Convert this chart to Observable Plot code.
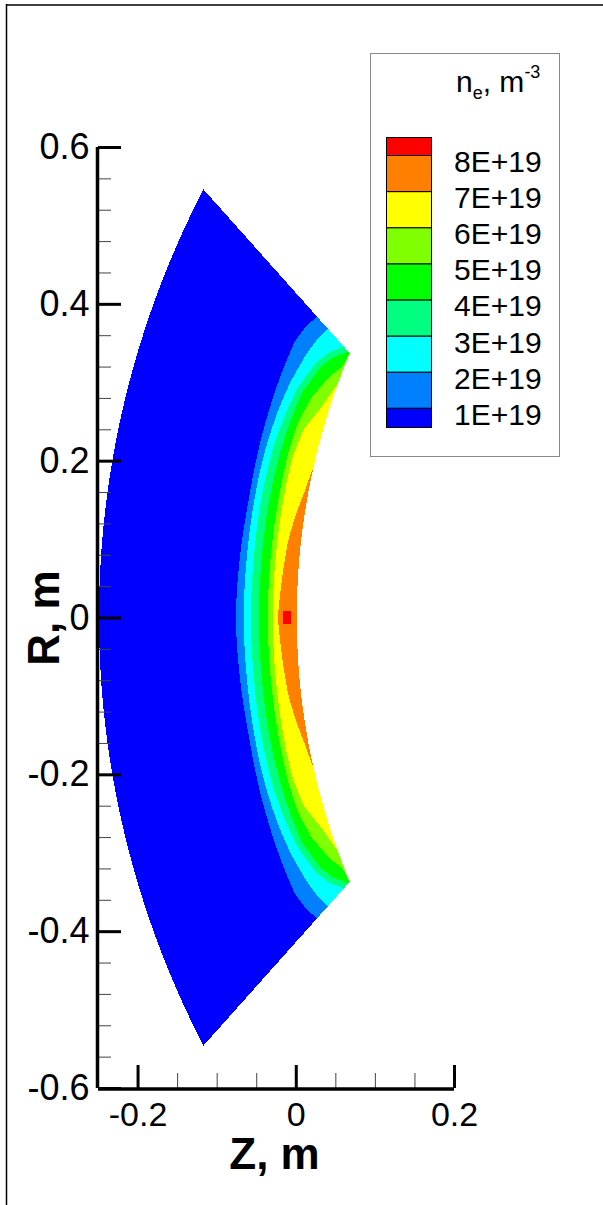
<!DOCTYPE html>
<html><head><meta charset="utf-8">
<script src="https://cdn.jsdelivr.net/npm/d3@7"></script>
<script src="https://cdn.jsdelivr.net/npm/@observablehq/plot@0.6"></script>
<style>
html,body{margin:0;padding:0;background:#fff;}
#wrap{position:relative;width:603px;height:1205px;overflow:hidden;}
</style></head><body><div id="wrap"></div>
<script>
// ---- data ----
const levels = [1e19, 2e19, 3e19, 4e19, 5e19, 6e19, 7e19, 8e19];
const levelLabels = ["1E+19", "2E+19", "3E+19", "4E+19", "5E+19", "6E+19", "7E+19", "8E+19"];
const bandColors = ["#0000ff", "#0080ff", "#00ffff", "#00ff80", "#00ff00", "#80ff00", "#ffff00", "#ff8000", "#ff0000"];
const xMajorTicks = [-0.2, 0, 0.2];
const xMinorTicks = [-0.15, -0.1, -0.05, 0.05, 0.1, 0.15];
const yMajorTicks = [-0.6, -0.4, -0.2, 0, 0.2, 0.4, 0.6];
const yMinorTicks = [-0.56, -0.52, -0.48, -0.44, -0.36, -0.32, -0.28, -0.24, -0.16, -0.12, -0.08, -0.04,
                     0.04, 0.08, 0.12, 0.16, 0.24, 0.28, 0.32, 0.36, 0.44, 0.48, 0.52, 0.56];
// domain: annular sector (Z, R in m)
const sectorFocusZ = 0.365;          // sides of the sector meet here on R = 0
const innerArc = {cz: 0.881, r: 0.881};
const outerArc = {cz: 0.945, r: 1.195};
const outerCorner = {z: -0.118, r: 0.546};
// stations along the arc (0 = midplane, 1 = sector end)
const tStations = [0, 0.1, 0.2, 0.3, 0.4, 0.5, 0.6, 0.7, 0.8, 0.9, 0.95, 1.0];
// fractional depth (0 = inner wall, 1 = outer arc) where n_e crosses each level
const crossing1E19 = [0.308, 0.305, 0.300, 0.295, 0.290, 0.290, 0.290, 0.288, 0.285, 0.278, 0.258, 0.225];
const crossing2E19 = [0.268, 0.267, 0.265, 0.264, 0.262, 0.260, 0.255, 0.245, 0.228, 0.200, 0.180, 0.150];
const crossing3E19 = [0.232, 0.231, 0.230, 0.229, 0.228, 0.225, 0.220, 0.205, 0.185, 0.140, 0.100, 0.040];
const crossing4E19 = [0.192, 0.191, 0.190, 0.189, 0.188, 0.185, 0.180, 0.170, 0.155, 0.110, 0.070, 0.010];
const crossing5E19 = [0.146, 0.146, 0.145, 0.144, 0.143, 0.142, 0.140, 0.132, 0.105, 0.050, 0.010, 0.000];
const crossing6E19 = [0.121, 0.121, 0.120, 0.119, 0.118, 0.117, 0.113, 0.095, 0.040, 0.000, 0.000, 0.000];
const crossing7E19 = [0.096, 0.085, 0.075, 0.065, 0.045, 0.020, 0.000, 0.000, 0.000, 0.000, 0.000, 0.000];
const peak8E19 = {sIn: 0.03, sOut: 0.07, tHalf: 0.025};

// ---- field built from the read crossings ----
const crossings = [crossing1E19, crossing2E19, crossing3E19, crossing4E19, crossing5E19, crossing6E19, crossing7E19]
  .map(arr => d3.scaleLinear().domain(tStations).range(arr).clamp(true));
const phiMax = Math.atan2(outerCorner.r, sectorFocusZ - outerCorner.z);
function density(z, r) {
  const dz = sectorFocusZ - z;
  const phi = Math.atan2(r, dz);
  if (Math.abs(phi) > phiMax) return NaN;
  const d = Math.hypot(dz, r);
  const c = Math.cos(phi), s2 = Math.sin(phi) ** 2;
  const ai = sectorFocusZ - innerArc.cz, ao = sectorFocusZ - outerArc.cz;
  const ui = ai * c + Math.sqrt(innerArc.r ** 2 - ai * ai * s2);
  const uo = ao * c + Math.sqrt(outerArc.r ** 2 - ao * ao * s2);
  if (d < ui || d > uo) return NaN;
  const s = (d - ui) / (uo - ui);
  const t = Math.abs(phi) / phiMax;
  let v = levels[0] * 0.5;
  for (let k = 0; k < crossings.length; ++k) if (s < crossings[k](t)) v = levels[k] + 0.5e19;
  if (t < peak8E19.tHalf && s > peak8E19.sIn && s < peak8E19.sOut) v = levels[7] + 0.5e19;
  return v;
}

// ---- chart ----
const W = 603, H = 1205;
const mL = 98, mR = 149, mT = 147, mB = 117;
const frameW = W - mL - mR, frameH = H - mT - mB;
const font = '"Liberation Sans", Arial, Helvetica, sans-serif';
const xDom = [-0.25, 0.2], yDom = [-0.6, 0.6];

const plot = Plot.plot({
  width: W, height: H,
  marginLeft: mL, marginRight: mR, marginTop: mT, marginBottom: mB,
  x: {domain: xDom, axis: null},
  y: {domain: yDom, axis: null},
  color: {type: "threshold", domain: levels, range: bandColors},
  style: {fontFamily: font, background: "transparent", overflow: "visible"},
  marks: [
    Plot.raster({x1: xDom[0], x2: xDom[1], y1: yDom[0], y2: yDom[1], fill: density, pixelSize: 1, imageRendering: "pixelated"}),
    Plot.tickY(yMinorTicks, {y: d => d, insetRight: frameW - 13, stroke: "#444", strokeWidth: 1}),
    Plot.tickX(xMinorTicks, {x: d => d, insetTop: frameH - 15, stroke: "#444", strokeWidth: 1}),
    Plot.tickY(yMajorTicks, {y: d => d, insetRight: frameW - 23, stroke: "#000", strokeWidth: 3}),
    Plot.tickX(xMajorTicks, {x: d => d, insetTop: frameH - 23, stroke: "#000", strokeWidth: 3}),
    Plot.ruleX([xDom[0]], {y1: yDom[0], y2: yDom[1], stroke: "#000", strokeWidth: 3.5, dx: -1}),
    Plot.ruleY([yDom[0]], {x1: xDom[0], x2: xDom[1], stroke: "#000", strokeWidth: 3.5, dy: 0.5}),
    Plot.text(yMajorTicks, {x: xDom[0], y: d => d, text: d => String(d), textAnchor: "end", lineAnchor: "middle", dx: -9, fontSize: 36, fill: "#000"}),
    Plot.text(xMajorTicks, {x: d => d, y: yDom[0], text: d => String(d), textAnchor: "middle", lineAnchor: "top", dy: 13, fontSize: 34, fill: "#000"}),
    Plot.text(["Z, m"], {frameAnchor: "bottom", text: d => d, textAnchor: "middle", lineAnchor: "middle", dx: -2, dy: 66, fontSize: 44, fontWeight: "bold", fill: "#000"}),
    Plot.text(["R, m"], {frameAnchor: "left", text: d => d, textAnchor: "middle", lineAnchor: "middle", rotate: -90, dx: -54, fontSize: 44, fontWeight: "bold", fill: "#000"})
  ]
});
document.getElementById("wrap").appendChild(plot);

// ---- page frame and legend ----
const svg = d3.select(plot);
svg.append("line").attr("x1", 6).attr("x2", W).attr("y1", 5).attr("y2", 5).attr("stroke", "#000").attr("stroke-width", 1.5);
svg.append("line").attr("x1", 6.5).attr("x2", 6.5).attr("y1", 4).attr("y2", H).attr("stroke", "#000").attr("stroke-width", 1.5);

const lg = svg.append("g").attr("font-family", font).attr("text-anchor", "start");
lg.append("rect").attr("x", 370.5).attr("y", 53.5).attr("width", 189).attr("height", 403)
  .attr("fill", "#fff").attr("stroke", "#888").attr("stroke-width", 1);
const title = lg.append("text").attr("x", 456).attr("y", 92).attr("font-size", 30).attr("fill", "#000").attr("text-anchor", "start");
title.append("tspan").text("n");
title.append("tspan").attr("font-size", 18).attr("dy", 7).text("e");
title.append("tspan").attr("dy", -7).text(", m");
title.append("tspan").attr("font-size", 18).attr("dy", -14).text("-3");

const rowH = 36.1, firstBoundary = 155, swX = 386, swW = 45;
const boundaryY = levels.map((_, i) => firstBoundary + (levels.length - 1 - i) * rowH); // y of level i boundary
bandColors.forEach((c, i) => {
  const yTop = i === bandColors.length - 1 ? 137 : boundaryY[i];
  const yBot = i === 0 ? 427 : boundaryY[i - 1];
  lg.append("rect").attr("x", swX + 0.5).attr("y", yTop + 0.5).attr("width", swW).attr("height", yBot - yTop)
    .attr("fill", c).attr("stroke", "#000").attr("stroke-width", 1);
});
levels.forEach((v, i) => {
  lg.append("text").attr("x", 454).attr("y", boundaryY[i] + 17).attr("font-size", 30).attr("fill", "#000")
    .attr("text-anchor", "start").text(levelLabels[i]);
});
</script>
</body></html>
